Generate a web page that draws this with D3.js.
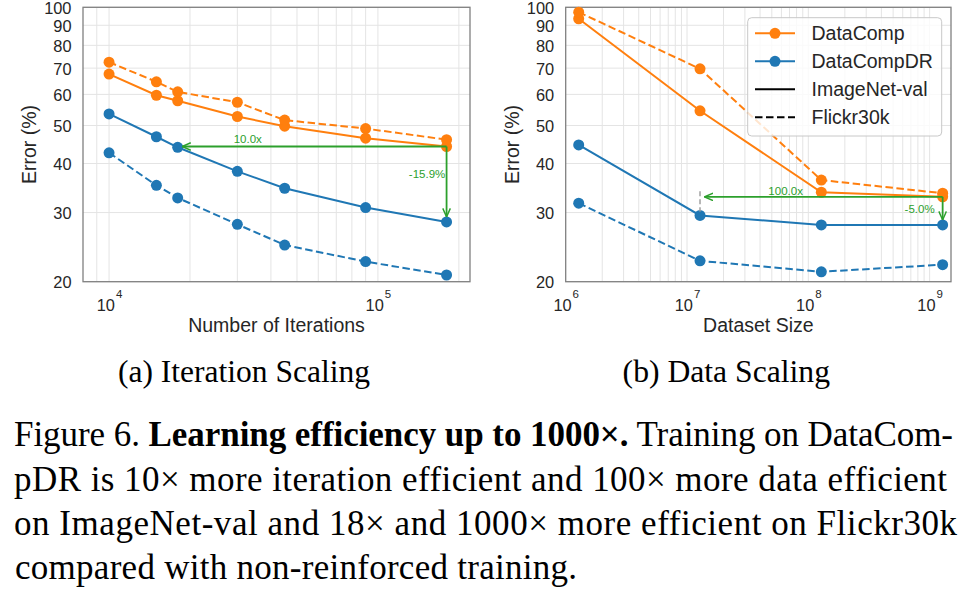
<!DOCTYPE html>
<html><head><meta charset="utf-8">
<script src="https://cdn.jsdelivr.net/npm/d3@7"></script>
<style>body{margin:0;background:#fff} svg{display:block}</style>
</head><body>
<svg id="fig" width="973" height="597"></svg>
<script>
// ---- data ----
const iterations = [10000, 15000, 18000, 30000, 45000, 90000, 180000];
const iterDataCompImageNet = [67.6, 59.7, 57.8, 52.7, 49.8, 46.4, 44.2];
const iterDataCompFlickr   = [72.5, 64.6, 60.9, 57.3, 51.6, 49.1, 46.0];
const iterDRImageNet       = [53.5, 46.8, 44.0, 38.2, 34.6, 30.9, 28.4];
const iterDRFlickr         = [42.6, 35.2, 32.7, 28.0, 24.8, 22.5, 20.8];

const datasetSizes = [1.28e6, 1.28e7, 1.28e8, 1.28e9];
const dataDataCompImageNet = [93.5, 54.5, 33.8, 32.9];
const dataDataCompFlickr   = [97.2, 69.7, 36.3, 33.6];
const dataDRImageNet       = [44.6, 29.5, 27.9, 27.9];
const dataDRFlickr         = [31.7, 22.6, 21.2, 22.1];

const yTickValues = [20, 30, 40, 50, 60, 70, 80, 90, 100];
const iterXTickExps = [4, 5];
const dataXTickExps = [6, 7, 8, 9];
const legendLabels = ["DataComp", "DataCompDR", "ImageNet-val", "Flickr30k"];
const iterAnnotations = ["10.0x", "-15.9%"];
const dataAnnotations = ["100.0x", "-5.0%"];
const subCaptions = ["(a) Iteration Scaling", "(b) Data Scaling"];

// ---- styles ----
const ORANGE = "#ff7f0e", BLUE = "#1f77b4", GREEN = "#2ca02c";
const SANS = "'Liberation Sans', Arial, sans-serif";
const SERIF = "'Liberation Serif', 'Times New Roman', serif";
const svg = d3.select("#fig");

const defs = svg.append("defs");
defs.append("marker").attr("id", "ah")
  .attr("markerUnits", "userSpaceOnUse")
  .attr("viewBox", "0 0 10 10").attr("refX", 9.5).attr("refY", 5)
  .attr("markerWidth", 9).attr("markerHeight", 9).attr("orient", "auto")
  .append("path").attr("d", "M0,0.8 L9.5,5 L0,9.2")
  .attr("fill", "none").attr("stroke", GREEN).attr("stroke-width", 1.6);

function panel(cfg) {
  const x = d3.scaleLog().domain(cfg.xDomain).range([cfg.left, cfg.right]);
  const y = d3.scaleLog().domain([20, 100]).range([cfg.bottom, cfg.top]);
  const g = svg.append("g");

  // grid
  const xGrid = x.ticks().filter(v => x(v) > cfg.left + 1 && x(v) < cfg.right - 1);
  g.append("g").selectAll("line").data(xGrid).join("line")
    .attr("x1", d => x(d)).attr("x2", d => x(d))
    .attr("y1", cfg.top).attr("y2", cfg.bottom)
    .attr("stroke", "#e4e4e4").attr("stroke-width", 1);
  g.append("g").selectAll("line").data(yTickValues).join("line")
    .attr("x1", cfg.left).attr("x2", cfg.right)
    .attr("y1", d => y(d)).attr("y2", d => y(d))
    .attr("stroke", "#e4e4e4").attr("stroke-width", 1);

  // y axis
  const yAxis = g.append("g").attr("transform", `translate(${cfg.left},0)`)
    .call(d3.axisLeft(y).tickValues(yTickValues).tickSize(0).tickPadding(11.5).tickFormat(d3.format("d")));
  yAxis.select(".domain").remove();
  yAxis.selectAll("text").attr("font-family", SANS).attr("font-size", 16.4).attr("fill", "#262626").attr("dy", "0.36em");

  // x axis
  const xAxis = g.append("g").attr("transform", `translate(0,${cfg.bottom})`)
    .call(d3.axisBottom(x).tickValues(cfg.xTickExps.map(e => Math.pow(10, e))).tickSize(0).tickPadding(0).tickFormat(""));
  xAxis.select(".domain").remove();
  xAxis.selectAll(".tick").each(function(d, i) {
    const t = d3.select(this).select("text");
    t.attr("font-family", SANS).attr("fill", "#262626").attr("y", 29.5).attr("dy", null)
      .attr("text-anchor", "middle");
    t.append("tspan").attr("font-size", 16.4).text("10");
    t.append("tspan").attr("font-size", 11.5).attr("dy", -13).attr("dx", 1).text(cfg.xTickExps[i]);
  });

  // frame
  g.append("rect").attr("x", cfg.left).attr("y", cfg.top)
    .attr("width", cfg.right - cfg.left).attr("height", cfg.bottom - cfg.top)
    .attr("fill", "none").attr("stroke", "#808080").attr("stroke-width", 1.3);

  // axis labels
  g.append("text").attr("x", (cfg.left + cfg.right) / 2).attr("y", 332)
    .attr("text-anchor", "middle").attr("font-family", SANS).attr("font-size", 19.5)
    .attr("fill", "#262626").text(cfg.xLabel);
  g.append("text").attr("transform", `translate(${cfg.left - 47},${(cfg.top + cfg.bottom) / 2}) rotate(-90)`)
    .attr("text-anchor", "middle").attr("font-family", SANS).attr("font-size", 19.5)
    .attr("fill", "#262626").text("Error (%)");

  // series
  const line = d3.line().x(d => x(d[0])).y(d => y(d[1]));
  cfg.series.forEach(s => {
    const pts = s.xs.map((v, i) => [v, s.ys[i]]);
    g.append("path").datum(pts).attr("d", line).attr("fill", "none")
      .attr("stroke", s.color).attr("stroke-width", 2)
      .attr("stroke-dasharray", s.dashed ? "7.5,3.5" : null);
    g.append("g").selectAll("circle").data(pts).join("circle")
      .attr("cx", d => x(d[0])).attr("cy", d => y(d[1])).attr("r", 5.5)
      .attr("fill", s.color);
  });

  // annotations
  const a = cfg.ann;
  if (a.guide) {
    g.append("line").attr("x1", x(a.guide[0])).attr("x2", x(a.guide[0]))
      .attr("y1", y(a.guide[1])).attr("y2", y(a.guide[2]))
      .attr("stroke", "#a0a0a0").attr("stroke-width", 1.5).attr("stroke-dasharray", "5,3");
  }
  const sx = x(a.from[0]), sy = y(a.from[1]);
  g.append("line").attr("x1", sx).attr("y1", sy).attr("x2", x(a.hTo) + 4.5).attr("y2", sy)
    .attr("stroke", GREEN).attr("stroke-width", 1.8).attr("marker-end", "url(#ah)");
  g.append("line").attr("x1", sx).attr("y1", sy).attr("x2", sx).attr("y2", y(a.vTo) - 5)
    .attr("stroke", GREEN).attr("stroke-width", 1.8).attr("marker-end", "url(#ah)");
  g.append("text").attr("x", x(a.hLabel[0])).attr("y", y(a.hLabel[1])).attr("dy", "0.36em")
    .attr("text-anchor", "middle").attr("font-family", SANS).attr("font-size", 11.5)
    .attr("fill", GREEN).text(a.texts[0]);
  g.append("text").attr("x", x(a.vLabel[0])).attr("y", y(a.vLabel[1])).attr("dy", "0.36em")
    .attr("text-anchor", "end").attr("font-family", SANS).attr("font-size", 11.5)
    .attr("fill", GREEN).text(a.texts[1]);

  // caption
  g.append("text").attr("x", cfg.capX[0]).attr("y", 382)
    .attr("font-family", SERIF).attr("font-size", 31.5).attr("fill", "#000")
    .attr("textLength", cfg.capX[1] - cfg.capX[0]).attr("lengthAdjust", "spacingAndGlyphs")
    .text(cfg.caption);

  return {x, y, g};
}

panel({
  left: 83, right: 470, top: 7.3, bottom: 281.7,
  xDomain: [8000, 220000], xTickExps: iterXTickExps,
  xLabel: "Number of Iterations",
  series: [
    {xs: iterations, ys: iterDataCompImageNet, color: ORANGE, dashed: false},
    {xs: iterations, ys: iterDataCompFlickr, color: ORANGE, dashed: true},
    {xs: iterations, ys: iterDRImageNet, color: BLUE, dashed: false},
    {xs: iterations, ys: iterDRFlickr, color: BLUE, dashed: true}
  ],
  ann: {from: [180000, 44.2], hTo: 18000, vTo: 28.4,
        hLabel: [32800, 46.2], vLabel: [178000, 37.6], texts: iterAnnotations},
  caption: subCaptions[0], capX: [118, 370]
});

const right = panel({
  left: 565.7, right: 951, top: 7.3, bottom: 281.7,
  xDomain: [1e6, 1.5e9], xTickExps: dataXTickExps,
  xLabel: "Dataset Size",
  series: [
    {xs: datasetSizes, ys: dataDataCompImageNet, color: ORANGE, dashed: false},
    {xs: datasetSizes, ys: dataDataCompFlickr, color: ORANGE, dashed: true},
    {xs: datasetSizes, ys: dataDRImageNet, color: BLUE, dashed: false},
    {xs: datasetSizes, ys: dataDRFlickr, color: BLUE, dashed: true}
  ],
  ann: {from: [1.28e9, 32.9], hTo: 1.28e7, vTo: 27.9, guide: [1.28e7, 34.0, 30.2],
        hLabel: [6.5e7, 34.1], vLabel: [1.1e9, 30.7], texts: dataAnnotations},
  caption: subCaptions[1], capX: [622.6, 830]
});

// legend
const lg = svg.append("g");
lg.append("rect").attr("x", 747.7).attr("y", 17.7).attr("width", 194).attr("height", 118.3)
  .attr("rx", 4).attr("fill", "#fff").attr("fill-opacity", 0.8)
  .attr("stroke", "#c8c8c8").attr("stroke-width", 1);
const legendStyles = [
  {color: ORANGE, dashed: false, marker: true},
  {color: BLUE, dashed: false, marker: true},
  {color: "#000", dashed: false, marker: false},
  {color: "#000", dashed: true, marker: false}
];
legendLabels.forEach((lab, i) => {
  const yy = 33.3 + i * 28;
  const st = legendStyles[i];
  lg.append("line").attr("x1", 755).attr("x2", 795).attr("y1", yy).attr("y2", yy)
    .attr("stroke", st.color).attr("stroke-width", 2)
    .attr("stroke-dasharray", st.dashed ? "7.5,3.5" : null);
  if (st.marker) lg.append("circle").attr("cx", 775).attr("cy", yy).attr("r", 5.5).attr("fill", st.color);
  lg.append("text").attr("x", 811.5).attr("y", yy).attr("dy", "0.36em")
    .attr("font-family", SANS).attr("font-size", 19.5).attr("fill", "#262626").text(lab);
});

// figure caption
const captionLines = [
  [["Figure 6. ", false], ["Learning efficiency up to 1000\u00d7.", true], [" Training on DataCom-", false]],
  [["pDR is 10\u00d7 more iteration efficient and 100\u00d7 more data efficient", false]],
  [["on ImageNet-val and 18\u00d7 and 1000\u00d7 more efficient on Flickr30k", false]],
  [["compared with non-reinforced training.", false]]
];
const captionExtents = [[14, 953], [14, 947], [14, 957], [15, 577]];
const captionBaselines = [446, 491, 535, 579];
captionLines.forEach((parts, i) => {
  const t = svg.append("text").attr("x", captionExtents[i][0]).attr("y", captionBaselines[i])
    .attr("font-family", SERIF).attr("font-size", 35).attr("fill", "#000")
    .attr("textLength", captionExtents[i][1] - captionExtents[i][0]).attr("lengthAdjust", "spacing")
    .attr("xml:space", "preserve");
  parts.forEach(p => t.append("tspan").attr("font-weight", p[1] ? "bold" : null).text(p[0]));
});
</script>
</body></html>
